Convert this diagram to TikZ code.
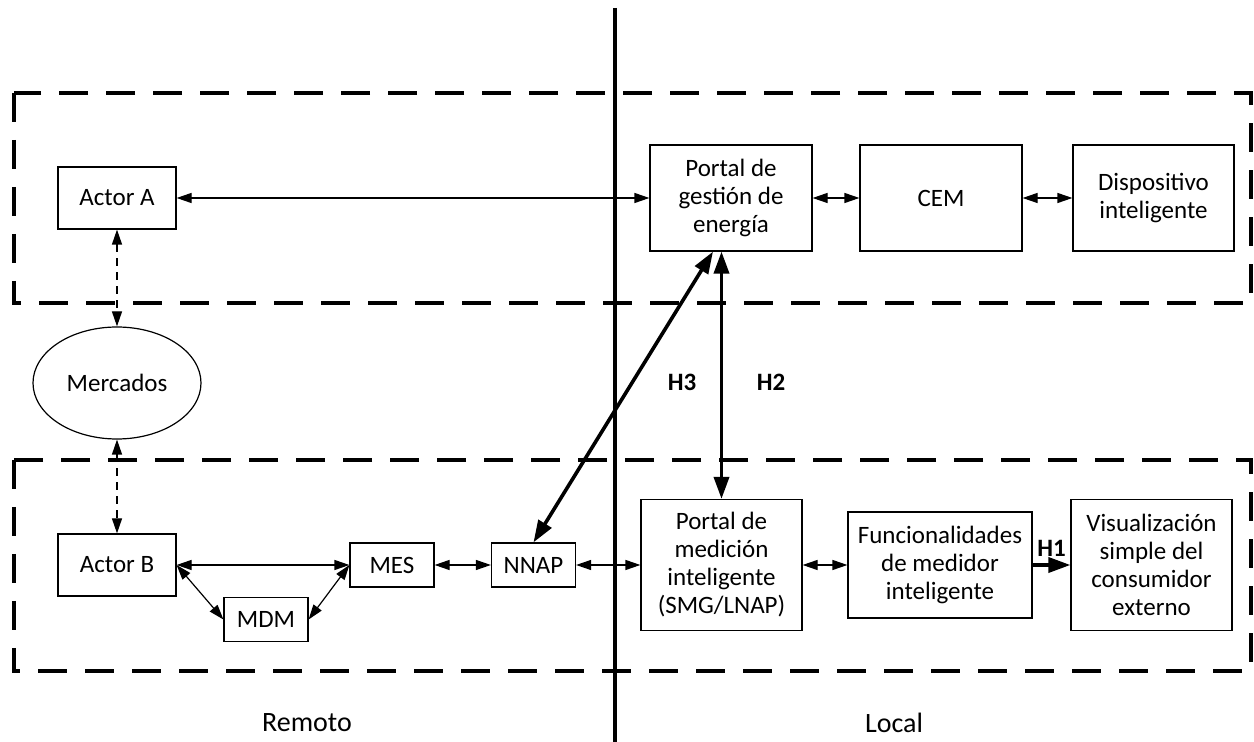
\documentclass[tikz,border=0pt]{standalone}
\usepackage{fontspec}
\setmainfont{Carlito}
\usetikzlibrary{arrows.meta,shapes.geometric}

\tikzset{%
        every block/.style={
            draw,
            line width=0.6pt,
            align=center,
            inner sep=0pt,
            font=\fontsize{12.5pt}{14pt}\selectfont
        },
        block actor/.style={minimum width=59pt, minimum height=31pt},
        block small/.style={minimum width=42pt, minimum height=22pt},
        block tall/.style={minimum width=80.5pt, minimum height=65.5pt},
        block wide/.style={minimum width=81pt, minimum height=53pt},
        block market/.style={ellipse, minimum width=84pt, minimum height=56pt},
        zone/.style={line width=2.2pt, dash pattern=on 14.5pt off 9pt},
        thin link/.style={line width=0.6pt, {Triangle[length=7.5pt,width=5pt]}-{Triangle[length=7.5pt,width=5pt]}},
        dashed link/.style={thin link, dash pattern=on 4pt off 3pt},
        thick link/.style={line width=1.8pt, {Triangle[length=11pt,width=7.5pt]}-{Triangle[length=11pt,width=7.5pt]}},
        h label/.style={font=\fontsize{12.5pt}{14pt}\selectfont\bfseries},
        side label/.style={font=\fontsize{14pt}{16pt}\selectfont},
    }

\begin{document}
\begin{tikzpicture}[x=0.5pt, y=-0.5pt]

        \useasboundingbox (0,0) rectangle (1254,742);

        \draw [zone] (14,93) rectangle (1251,303);
        \draw [zone] (14,460) rectangle (1251,671);
        \draw [line width=1.8pt] (615,8) -- (615,742);

        \node [every block, block actor] (actor-a) at (117,198) {Actor A};
        \node [every block, block market] (mercados) at (117,383) {Mercados};
        \node [every block, block actor] (actor-b) at (117,565) {Actor B};

        \foreach \n/\l/\x/\y in {mdm/MDM/266/619.5, mes/MES/392/565, nnap/NNAP/533.5/565}
        \node [every block, block small] (\n) at (\x,\y) {\l};

        \node [every block, block tall] (portal-medicion) at (721.5,565) {Portal de\\medición\\inteligente\\(SMG/LNAP)};
        \node [every block, block wide, minimum width=92pt] (funcionalidades) at (940,565) {Funcionalidades\\de medidor\\inteligente};
        \node [every block, block tall] (visualizacion) at (1151.5,565) {Visualización\\simple del\\consumidor\\externo};

        \node [every block, block wide] (portal-gestion) at (731,198) {Portal de\\gestión de\\energía};
        \node [every block, block wide] (cem) at (941,198) {CEM};
        \node [every block, block wide, minimum width=80.5pt] (dispositivo) at (1153.5,198) {Dispositivo\\inteligente};

        \draw [thin link] (actor-a) -- (portal-gestion);
        \foreach \a/\b in {portal-gestion/cem, cem/dispositivo, actor-b/mes, mes/nnap, nnap/portal-medicion, portal-medicion/funcionalidades}
            \draw [thin link] (\a) -- (\b);
        \draw [thin link] (actor-b.east) -- (mdm.west);
        \draw [thin link] (mdm.east) -- (mes.west);

        \draw [dashed link] (actor-a) -- (mercados);
        \draw [dashed link] (mercados) -- (actor-b);

        \draw [thick link] (nnap.north) -- ([xshift=-9pt]portal-gestion.south);
        \draw [thick link] (portal-medicion.north) -- (portal-medicion.north |- portal-gestion.south);
        \draw [thick link, {-Triangle[length=11pt,width=7.5pt]}] (funcionalidades) -- (visualizacion)
            node [h label, above, midway] {H1};

        \node [h label] (h3) at (682,382) {H3};
        \node [h label] (h2) at (771,382) {H2};

        \node [side label] (remoto) at (307,723) {Remoto};
        \node [side label] (local) at (894,723) {Local};
    \end{tikzpicture}
\end{document}
